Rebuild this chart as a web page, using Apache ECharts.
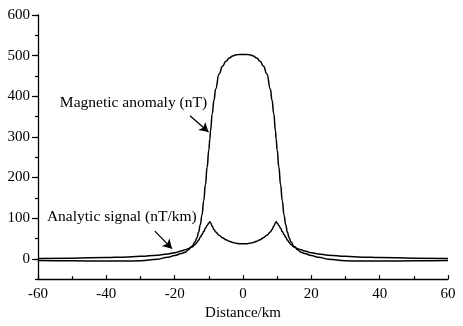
<!DOCTYPE html>
<html>
<head>
<meta charset="utf-8">
<script src="https://cdn.jsdelivr.net/npm/echarts@6/dist/echarts.min.js"></script>
<style>html,body{margin:0;padding:0;background:#fff;}#c{width:463px;height:326px;}</style>
</head>
<body>
<div id="c"></div>
<script>
// Distance (km)
var distances = [-60,-50,-40,-35,-30,-25,-22,-20,-18,-17,-16,-15,-14,-13.5,-13,-12.5,-12,-11.5,-11,-10.5,-10,-9.7,-9.5,-9,-8.5,-8,-7,-6,-5,-4,-3,-2,-1,0,1,2,3,4,5,6,7,8,8.5,9,9.5,9.7,10,10.5,11,11.5,12,12.5,13,13.5,14,15,16,17,18,20,22,25,30,35,40,50,60];
// Magnetic anomaly (nT)
var magneticAnomaly = [-4,-5,-5.5,-5.5,-5,-1,4,8,13,16,22,30,42,52,65,84,108,143,182,225,268,295,315,357,390,418,455,474,486,494,499,502,503,503,503,502,499,494,486,474,455,418,390,357,315,295,268,225,182,143,108,84,65,52,42,30,22,16,13,8,4,-1,-5,-5.5,-5.5,-5,-4];
// Analytic signal (nT/km)
var analyticSignal = [0.5,1.5,3,4,6,9,12,15,19,22,25,29,35,40,46,53,60,67,75,82,88,91,88,80,72,66,58,52,47,43,40,38,37,37,37,38,40,43,47,52,58,66,72,80,88,91,88,82,75,67,60,53,46,40,35,29,25,22,19,15,12,9,6,4,3,1.5,0.5];
var xTicks = {min:-60, max:60, interval:20};
var yMajorTicks = [0,100,200,300,400,500,600];
var yRange = {min:-50, max:600};
// annotation texts and arrows (data coordinates)
var labelTexts = ['Magnetic anomaly (nT)', 'Analytic signal (nT/km)'];
var labelAnchors = [[-53.6, 384], [-57.4, 103]];
var arrowStarts = [[-15.5, 352], [-25.8, 68]];
var arrowEnds = [[-10.1, 312], [-20.8, 25]];

function pairs(xs, ys){ return xs.map(function(x,i){ return [x, ys[i]]; }); }
var FONT = 'Liberation Serif';
var chart = echarts.init(document.getElementById('c'));
chart.setOption({
  animation:false,
  backgroundColor:'#fff',
  grid:{left:38, right:15, top:15, bottom:43, containLabel:false},
  xAxis:{
    type:'value', min:xTicks.min, max:xTicks.max, interval:xTicks.interval,
    axisLine:{onZero:false, lineStyle:{color:'#000', width:1.3}},
    axisTick:{inside:true, length:4, lineStyle:{color:'#000', width:1.2}},
    minorTick:{show:true, splitNumber:2, length:3, lineStyle:{color:'#000', width:1.2}},
    splitLine:{show:false},
    axisLabel:{color:'#000', fontFamily:FONT, fontSize:15, margin:7},
    name:'Distance/km', nameLocation:'middle', nameGap:26,
    nameTextStyle:{color:'#000', fontFamily:FONT, fontSize:15}
  },
  yAxis:[{
    type:'value', min:yRange.min, max:yRange.max, interval:50, position:'left',
    axisLine:{show:true, onZero:false, lineStyle:{color:'#000', width:1.3}},
    axisTick:{show:true, inside:false, length:3, lineStyle:{color:'#000', width:1.2}},
    splitLine:{show:false},
    axisLabel:{color:'#000', fontFamily:FONT, fontSize:15, margin:8,
      formatter:function(v){ return yMajorTicks.indexOf(v) >= 0 ? String(v) : ''; }}
  },{
    type:'value', min:yRange.min, max:yRange.max, interval:50, position:'left', offset:0,
    axisLine:{show:false, onZero:false},
    axisTick:{show:true, inside:false, length:6, customValues:yMajorTicks, lineStyle:{color:'#000', width:1.2}},
    axisLabel:{show:false},
    splitLine:{show:false}
  }],
  series:[{
    type:'line', name:'Magnetic anomaly', data:pairs(distances, magneticAnomaly),
    showSymbol:false, smooth:0.5, smoothMonotone:'x', lineStyle:{color:'#000', width:1.5}, silent:true,
    markPoint:{symbol:'circle', symbolSize:0, silent:true,
      label:{show:true, position:'right', distance:0, color:'#000', fontFamily:FONT, fontSize:15.5},
      data:labelTexts.map(function(t,i){ return {coord:labelAnchors[i], value:t, label:{formatter:t}}; })},
    markLine:{symbol:['none','arrow'], symbolSize:[8,9], silent:true, label:{show:false},
      lineStyle:{color:'#000', width:1.3, type:'solid'},
      data:arrowStarts.map(function(s,i){ return [{coord:s},{coord:arrowEnds[i]}]; })}
  },{
    type:'line', name:'Analytic signal', data:pairs(distances, analyticSignal),
    showSymbol:false, smooth:0.5, smoothMonotone:'x', lineStyle:{color:'#000', width:1.5}, silent:true
  }]
});
</script>
</body>
</html>
